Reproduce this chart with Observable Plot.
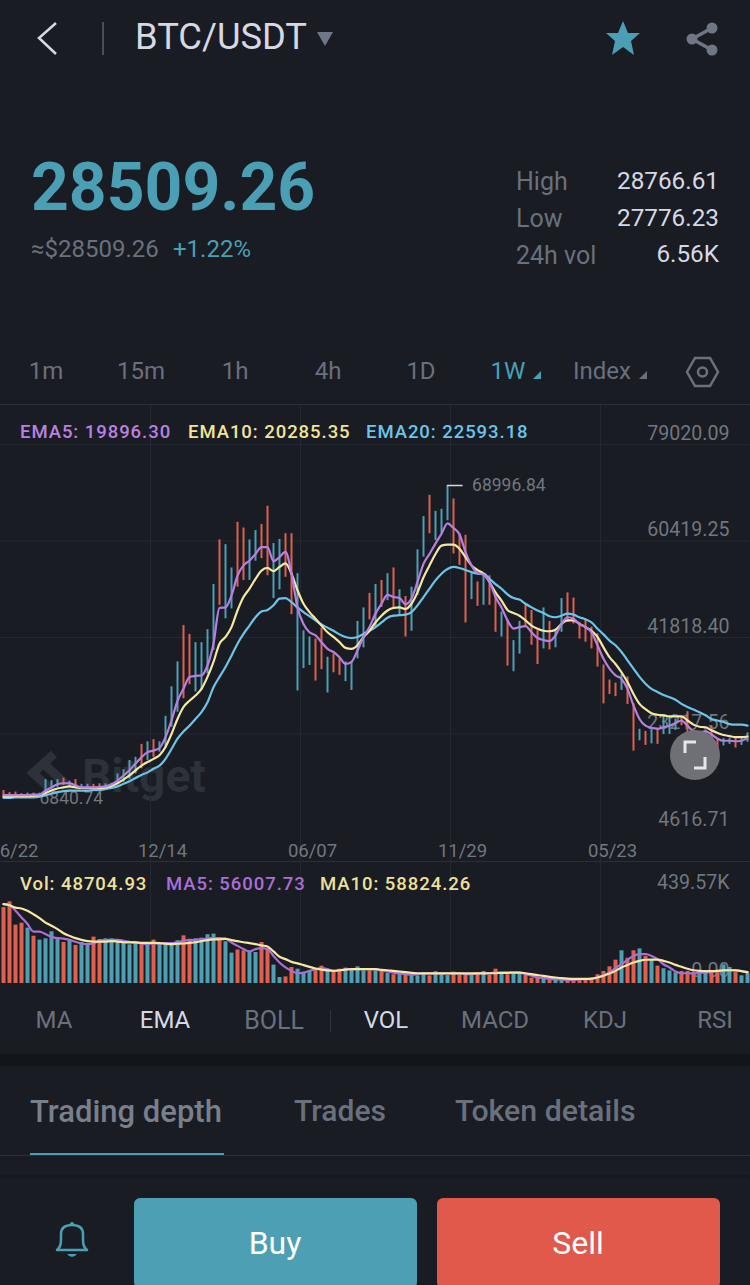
<!DOCTYPE html>
<html>
<head>
<meta charset="utf-8">
<script src="https://cdn.jsdelivr.net/npm/d3@7"></script>
<script src="https://cdn.jsdelivr.net/npm/@observablehq/plot@0.6"></script>
<style>
html,body{margin:0;padding:0;background:#191c23;}
#page{position:relative;width:750px;height:1285px;overflow:hidden;background:#191c23;font-family:Roboto,sans-serif;}
#page>span,.t{position:absolute;white-space:nowrap;transform:translateY(-50%);line-height:1;}
.dim{color:#6b707d;}
.lit{color:#d6d9e3;}
.chart{position:absolute;left:0;}
.chart svg{display:block;background:transparent;overflow:visible;}
.box{position:absolute;}
.leg{font:500 18.5px Roboto,sans-serif;letter-spacing:.95px;}
.c{transform:translate(-50%,-50%)!important;}
.r{transform:translate(-100%,-50%)!important;}
</style>
</head>
<body>
<div id="page">
  <svg class="box" style="left:0;top:0" width="750" height="405">
    <polyline points="56,23 39,38 56,54" fill="none" stroke="#d6d9e3" stroke-width="2.5"/>
    <line x1="103" y1="22" x2="103" y2="55" stroke="#5a5f6b" stroke-width="1.5"/>
    <polygon points="317,32 333,32 325,46" fill="#6f7686"/>
    <polygon points="623,21 628,33 640,33 631,41 634,55 623,47 612,55 615,41 606,33 618,33" fill="#4b9fb4"/>
    <polyline points="712,28 692,39 712,50" fill="none" stroke="#6f7686" stroke-width="3.5"/>
    <circle cx="712" cy="28" r="5.5" fill="#6f7686"/><circle cx="692" cy="39" r="5.5" fill="#6f7686"/><circle cx="712" cy="50" r="5.5" fill="#6f7686"/>
    <polygon points="533,379 541,371 541,379" fill="#4b9fb4"/>
    <polygon points="639,379 647,371 647,379" fill="#6b707d"/>
    <polygon points="687,372 695,358 710,358 718,372 710,386 695,386" fill="none" stroke="#6b707d" stroke-width="2.5"/>
    <circle cx="702.500" cy="372" r="4.5" fill="none" stroke="#6b707d" stroke-width="2.5"/>
  </svg>
  <span class="lit" style="left:135px;top:37px;font-size:36.3px;">BTC/USDT</span>
  <span style="left:31px;top:188px;font-size:66px;font-weight:700;color:#4b9fb4;">28509.26</span>
  <span class="dim" style="left:31px;top:249px;font-size:24px;">≈$28509.26</span>
  <span style="left:173px;top:249px;font-size:24px;color:#4b9fb4;">+1.22%</span>
  <span class="dim" style="left:516px;top:181px;font-size:25px;">High</span>
  <span class="dim" style="left:516px;top:218px;font-size:25px;">Low</span>
  <span class="dim" style="left:516px;top:255px;font-size:25px;">24h vol</span>
  <span class="lit r" style="left:719px;top:181px;font-size:24.300px;">28766.61</span>
  <span class="lit r" style="left:719px;top:218px;font-size:24.300px;">27776.23</span>
  <span class="lit r" style="left:719px;top:254px;font-size:24.300px;">6.56K</span>
  <span class="dim c" style="left:46px;top:371px;font-size:24px;">1m</span>
  <span class="dim c" style="left:141px;top:371px;font-size:24px;">15m</span>
  <span class="dim c" style="left:235px;top:371px;font-size:24px;">1h</span>
  <span class="dim c" style="left:328px;top:371px;font-size:24px;">4h</span>
  <span class="dim c" style="left:421px;top:371px;font-size:24px;">1D</span>
  <span class="c" style="left:508px;top:371px;font-size:24px;color:#4b9fb4;">1W</span>
  <span class="dim" style="left:573px;top:371px;font-size:24px;">Index</span>

  <div class="box" style="left:0;top:404px;width:750px;height:1px;background:#2b2f38;"></div>
  <div class="box" style="left:0;top:861px;width:750px;height:1px;background:#2b2f38;"></div>

  <svg class="box" style="left:26px;top:750px" width="54" height="46">
    <polyline points="28,4 7,23 28,42" fill="none" stroke="#2c313a" stroke-width="9"/>
    <polyline points="17,13 46,40" fill="none" stroke="#2c313a" stroke-width="9"/>
  </svg>
  <span style="left:82px;top:776px;font-size:46px;font-weight:700;color:#2c313a;">Bitget</span>

  <div class="chart" id="main" style="top:405px"></div>
  <div class="chart" id="volume" style="top:860px"></div>

  <span class="leg" style="left:20px;top:432px;color:#b982e0;">EMA5: 19896.30</span>
  <span class="leg" style="left:188px;top:432px;color:#f2e59a;">EMA10: 20285.35</span>
  <span class="leg" style="left:366px;top:432px;color:#6cc5e8;">EMA20: 22593.18</span>
  <span class="leg" style="left:20px;top:884px;color:#efe09a;">Vol: 48704.93</span>
  <span class="leg" style="left:166px;top:884px;color:#a96fd6;">MA5: 56007.73</span>
  <span class="leg" style="left:320px;top:884px;color:#efe09a;">MA10: 58824.26</span>

  <div class="box" style="left:670px;top:730px;width:50px;height:50px;border-radius:50%;background:#6e7075;"></div>
  <svg class="box" style="left:670px;top:730px" width="50" height="50">
    <polyline points="15,23 15,12 26,12" fill="none" stroke="#e6e6e8" stroke-width="3"/>
    <polyline points="35,27 35,38 24,38" fill="none" stroke="#e6e6e8" stroke-width="3"/>
  </svg>

  <span class="dim c" style="left:54px;top:1020px;font-size:24px;">MA</span>
  <span class="lit c" style="left:165px;top:1020px;font-size:24px;">EMA</span>
  <span class="dim c" style="left:274px;top:1020px;font-size:25px;">BOLL</span>
  <div class="box" style="left:330px;top:1010px;width:1px;height:22px;background:#2f333c;"></div>
  <span class="lit c" style="left:386px;top:1020px;font-size:24px;">VOL</span>
  <span class="dim c" style="left:495px;top:1020px;font-size:24px;">MACD</span>
  <span class="dim c" style="left:605px;top:1020px;font-size:24px;">KDJ</span>
  <span class="dim c" style="left:715px;top:1020px;font-size:24px;">RSI</span>

  <div class="box" style="left:0;top:1054px;width:750px;height:12px;background:#12151a;"></div>
  <span style="left:30px;top:1111px;font-size:31px;font-weight:500;color:#7a7f8c;">Trading depth</span>
  <span class="dim" style="left:294px;top:1111px;font-size:30px;font-weight:500;">Trades</span>
  <span class="dim" style="left:455px;top:1111px;font-size:30.300px;font-weight:500;">Token details</span>
  <div class="box" style="left:0;top:1155px;width:750px;height:1px;background:#2b2f38;"></div>
  <div class="box" style="left:30px;top:1153px;width:194px;height:2px;background:#4b9fb4;"></div>
  <div class="box" style="left:0;top:1175px;width:750px;height:4px;background:#161920;"></div>

  <svg class="box" style="left:50px;top:1220px" width="44" height="44">
    <path d="M7 30 Q11 27 11 20 L11 14 Q11 5 22 5 Q33 5 33 14 L33 20 Q33 27 37 30 Z" fill="none" stroke="#4b9fb4" stroke-width="2.5" stroke-linejoin="round"/>
    <path d="M17 34 Q22 40 27 34 Z" fill="#4b9fb4"/>
    <circle cx="22" cy="4" r="2" fill="#4b9fb4"/>
  </svg>
  <div class="box" style="left:134px;top:1198px;width:283px;height:90px;border-radius:6px;background:#4d9fb3;"></div>
  <div class="box" style="left:437px;top:1198px;width:283px;height:90px;border-radius:6px;background:#e0594a;"></div>
  <span class="c" style="left:275px;top:1243px;font-size:32px;color:#fff;">Buy</span>
  <span class="c" style="left:578px;top:1243px;font-size:32px;color:#fff;">Sell</span>
</div>
<script>
// Weekly candles, prices in thousands of USDT
const candleHigh = [10.2,9.8,9.9,9.6,9.7,9.7,9.7,12.3,12.1,12.3,12.6,12.0,12.3,11.4,11.4,11.4,11.5,11.5,11.6,13.4,14.2,16.0,16.6,19.1,19.6,20.0,19.6,24.5,30.2,35.0,42.0,40.3,38.7,38.7,41.2,49.9,58.5,57.6,53.1,61.9,60.8,58.5,60.3,61.5,65.0,57.8,58.6,59.7,59.7,52.0,41.0,39.8,39.4,41.5,35.9,36.5,35.6,35.0,35.0,42.8,45.4,48.2,49.9,50.7,52.0,53.1,48.9,47.6,49.4,56.6,63.0,67.1,64.0,64.4,69.0,66.4,59.7,59.4,52.0,50.4,52.0,51.6,47.8,44.6,43.0,39.1,42.8,46.0,44.9,41.0,45.4,42.8,41.0,47.2,48.3,47.3,42.6,43.0,41.7,40.4,34.4,31.5,30.9,32.6,32.1,26.9,22.0,21.6,22.1,21.9,24.5,24.3,24.0,24.5,25.4,22.1,20.8,21.9,22.7,20.2,20.2,20.2,20.2,20.2,21.3];
const candleLow = [8.9,8.9,9.0,8.9,8.9,8.9,8.9,10.2,10.5,10.8,11.2,10.8,10.8,10.5,10.5,10.5,10.5,10.7,10.8,11.4,11.8,12.4,13.4,14.4,16.0,16.6,17.6,18.3,22.4,25.3,27.9,30.6,29.2,29.5,32.7,37.2,45.9,43.3,45.2,49.4,50.7,50.7,54.4,54.9,51.6,47.2,48.9,51.3,44.1,29.4,33.7,34.3,31.3,33.5,29.0,32.9,32.4,31.2,29.5,35.6,37.7,43.1,41.7,45.5,46.8,45.5,43.9,39.8,40.9,47.8,55.2,59.7,58.4,59.7,62.2,55.8,53.6,42.5,47.0,45.7,45.9,45.9,40.7,39.8,34.2,33.1,36.5,41.7,38.2,34.5,37.5,37.3,37.7,40.7,42.6,42.3,39.4,38.8,37.5,34.0,26.9,28.7,28.3,29.5,26.8,17.8,19.8,18.9,19.2,19.1,21.0,21.0,21.8,22.7,21.0,19.5,19.0,18.7,20.2,18.4,18.8,19.1,18.4,18.9,19.5];
const candleDirection = "rrrrtrttttrtrttrrttttttrtrttttrrttttrttrrttrrttrrtttrrtrrttttrtrtrtrtttrtttrrrtrtrrtrttrrrtrttrrrrrrrrrtrrtrtrtttrrrttrrttrtt".split("");
const ema5 = [9.3,9.3,9.3,9.3,9.3,9.4,9.4,10.2,10.8,11.4,11.6,11.6,11.2,10.8,10.8,10.8,10.9,11.0,11.4,12.1,13.1,14.1,15.4,16.6,17.6,17.9,18.4,20.5,23.7,27.5,29.8,32.1,32.3,32.4,34.3,38.5,45.4,45.5,47.8,51.6,53.6,54.5,55.8,57.1,57.1,54.4,55.2,56.2,52.0,45.5,42.3,40.7,40.1,38.8,37.5,36.9,35.9,34.6,35.0,37.2,39.8,41.7,44.3,46.2,47.9,47.5,47.3,46.1,47.2,50.4,53.9,55.8,57.8,59.7,61.7,60.8,59.6,56.2,53.6,52.1,51.8,50.4,47.5,45.5,43.0,41.4,41.7,41.9,40.7,39.6,39.2,39.0,40.1,42.3,43.6,43.3,42.3,41.7,40.7,38.2,35.6,33.7,32.4,31.7,29.8,26.6,24.0,22.7,22.3,22.1,22.4,22.7,23.2,23.7,22.7,21.6,21.4,21.6,21.0,20.2,19.8,19.8,19.7,19.8,20.3];
const ema10 = [9.0,9.0,9.1,9.1,9.1,9.2,9.3,9.7,10.2,10.6,10.8,11.0,10.8,10.7,10.7,10.7,10.7,10.8,11.1,11.6,12.3,13.1,14.1,15.0,15.7,16.3,17.0,18.6,21.1,24.0,26.3,27.5,28.5,29.8,32.1,35.0,38.5,39.8,41.7,44.9,47.5,49.1,51.0,52.6,53.1,52.5,53.3,54.0,52.0,48.8,46.2,44.6,43.3,42.0,40.7,39.8,38.8,37.7,37.5,38.2,39.8,41.0,42.6,43.9,44.9,45.4,45.5,45.2,46.2,48.4,51.3,53.6,55.8,57.4,57.6,57.6,56.8,55.2,53.6,52.7,52.0,50.4,48.4,46.8,45.0,44.4,43.9,43.0,42.0,41.4,41.0,40.9,41.2,42.3,43.0,43.0,42.3,41.7,41.0,39.8,37.8,35.9,34.6,33.0,31.1,28.8,26.9,25.9,25.1,24.8,24.7,24.5,24.5,24.5,23.7,22.9,22.5,22.4,21.8,21.3,20.9,20.7,20.5,20.5,20.6];
const ema20 = [8.8,8.8,8.9,8.9,8.9,8.9,9.0,9.3,9.6,9.9,10.1,10.2,10.2,10.2,10.2,10.3,10.3,10.5,10.7,11.0,11.5,12.0,12.6,13.2,13.7,14.4,15.0,16.3,18.2,20.2,21.6,22.7,24.0,25.3,27.2,30.1,32.1,34.0,36.2,38.5,40.4,42.0,43.6,44.7,45.0,45.9,47.2,47.3,46.5,45.5,44.6,43.8,43.0,42.2,41.6,41.0,40.3,39.8,39.6,39.8,40.4,41.0,41.7,42.6,43.5,43.9,44.0,44.1,44.6,45.9,47.5,49.1,50.7,52.0,52.9,53.3,53.1,52.7,52.3,52.0,52.0,51.0,50.0,49.1,48.0,47.3,47.0,46.2,45.5,44.9,44.4,43.8,43.6,43.9,44.3,44.1,43.6,43.2,42.6,41.4,40.3,39.1,38.2,36.9,35.3,33.7,32.1,30.8,29.8,29.2,28.6,28.2,27.7,26.9,26.3,25.8,25.3,24.7,24.0,23.7,23.4,23.0,22.9,22.9,22.7];
// Volume in thousands
const volume = [355,382,273,282,259,221,203,209,242,215,192,203,178,192,184,217,206,209,209,200,192,181,187,184,184,203,187,181,181,200,223,207,209,212,228,231,212,195,142,157,153,145,145,192,161,86,28,31,75,67,51,59,62,81,62,56,67,72,67,78,59,59,59,56,47,41,51,41,37,36,51,36,55,41,37,53,39,39,39,44,56,39,67,44,41,44,44,44,25,28,36,25,20,16,20,16,16,16,19,41,56,78,109,153,118,153,162,126,109,81,69,59,50,56,56,50,44,51,59,51,87,75,51,36,47];
const volMA5 = [371,368,340,309,278,243,243,231,218,212,210,204,195,187,184,187,200,203,204,204,200,195,192,187,184,189,187,189,189,192,200,203,204,207,210,212,212,210,192,176,161,150,161,165,161,129,98,75,59,48,51,59,67,72,67,59,59,67,67,67,67,67,67,59,56,51,47,44,41,44,48,47,48,47,48,47,47,44,44,48,48,48,51,51,51,51,51,44,36,28,25,22,20,19,16,16,20,20,22,28,39,51,72,90,111,129,137,137,129,114,90,75,56,48,48,47,50,51,56,59,62,64,62,58,53];
const volMA10 = [371,366,355,351,340,324,306,285,270,254,235,223,212,204,198,196,196,196,198,196,193,192,192,190,190,190,189,186,184,186,187,190,193,198,203,206,207,209,203,198,193,189,184,178,173,150,125,114,101,94,86,78,70,65,61,59,62,65,67,67,67,67,67,64,62,59,56,53,50,48,47,47,47,47,47,47,47,47,47,47,47,48,48,50,50,51,51,48,44,39,36,31,28,25,23,22,22,22,23,28,36,47,59,75,87,98,106,111,112,112,106,98,87,78,69,62,59,58,58,59,61,62,61,58,53];
// Axis text
const priceTicks = [79020.09,60419.25,41818.40,23217.56,4616.71];
const priceTickLabels = ["79020.09","60419.25","41818.40","23217.56","4616.71"];
const dateTickPositions = [2.6,26.5,51.5,76.5,101.5];
const dateTickLabels = ["6/22","12/14","06/07","11/29","05/23"];
const gridPositions = [24.5,49.5,74.5,99.5];
const highestPrice = 68996.84, highestIndex = 74;
const lowestPrice = 6840.74, lowestLabelIndex = 6;
const volumeMax = 439.57;

const RED = "#e0604f", TEAL = "#4f9fb3";
const candles = candleHigh.map((h,i)=>({
  i, high:h*1000, low:candleLow[i]*1000, dir:candleDirection[i],
  e5:ema5[i]*1000, e10:ema10[i]*1000, e20:ema20[i]*1000,
  vol:volume[i], m5:volMA5[i], m10:volMA10[i]
}));
const xScale = {domain:[0,124], range:[3,747]};
const color = {domain:["r","t"], range:[RED,TEAL]};
const GRID = "#242831", LABEL = "#72767f", FONT = "Roboto, sans-serif";

const main = Plot.plot({
  width:750, height:456, margin:0,
  style:{background:"transparent", fontFamily:FONT},
  x:{...xScale, axis:null},
  y:{domain:[4616.71,79020.09], range:[414,28], axis:null},
  color,
  marks:[
    Plot.ruleX(gridPositions,{stroke:GRID, strokeWidth:1}),
    Plot.ruleY(priceTicks.slice(0,4),{dy:11, stroke:GRID, strokeWidth:1}),
    Plot.text(priceTicks,{x:()=>124, dx:-18, y:d=>d, text:(d,i)=>priceTickLabels[i], textAnchor:"end", fill:LABEL, fontSize:19.6}),
    Plot.text(dateTickPositions,{x:d=>d, frameAnchor:"bottom", dy:-5, text:(d,i)=>dateTickLabels[i], fill:LABEL, fontSize:18.5}),
    Plot.text([lowestPrice],{x:()=>lowestLabelIndex, y:d=>d, dy:-10, text:()=>"6840.74", textAnchor:"start", fill:LABEL, fontSize:17.5}),
    Plot.ruleX(candles,{x:"i", y1:"low", y2:"high", stroke:"dir", strokeWidth:2}),
    Plot.ruleY([highestPrice],{x1:highestIndex, x2:highestIndex+2.6, stroke:"#d6d9e3", strokeWidth:1.5}),
    Plot.text([highestPrice],{x:()=>highestIndex+4.1, y:d=>d, text:()=>"68996.84", textAnchor:"start", fill:LABEL, fontSize:17.5}),
    Plot.line(candles,{x:"i", y:"e20", stroke:"#6cc5e8", strokeWidth:2.2, curve:"monotone-x"}),
    Plot.line(candles,{x:"i", y:"e10", stroke:"#f5e8a0", strokeWidth:2.2, curve:"monotone-x"}),
    Plot.line(candles,{x:"i", y:"e5", stroke:"#b87ee0", strokeWidth:2.2, curve:"monotone-x"})
  ]
});
document.getElementById("main").append(main);

const vol = Plot.plot({
  width:750, height:125, margin:0,
  style:{background:"transparent", fontFamily:FONT},
  x:{...xScale, axis:null},
  y:{domain:[0,volumeMax], range:[123,29], axis:null},
  color,
  marks:[
    Plot.ruleX(gridPositions,{stroke:GRID, strokeWidth:1}),
    Plot.text([volumeMax],{x:()=>124, dx:-18, y:d=>d, dy:-7, text:()=>"439.57K", textAnchor:"end", fill:LABEL, fontSize:19.6}),
    Plot.text([0],{x:()=>124, dx:-18, y:d=>d, dy:-13, text:()=>"0.00", textAnchor:"end", fill:LABEL, fontSize:19.6}),
    Plot.ruleX(candles,{x:"i", y1:0, y2:"vol", stroke:"dir", strokeWidth:4}),
    Plot.line(candles,{x:"i", y:"m5", stroke:"#a96fd6", strokeWidth:2.2, curve:"monotone-x"}),
    Plot.line(candles,{x:"i", y:"m10", stroke:"#f5e8a0", strokeWidth:2.2, curve:"monotone-x"})
  ]
});
document.getElementById("volume").append(vol);
</script>
</body>
</html>
